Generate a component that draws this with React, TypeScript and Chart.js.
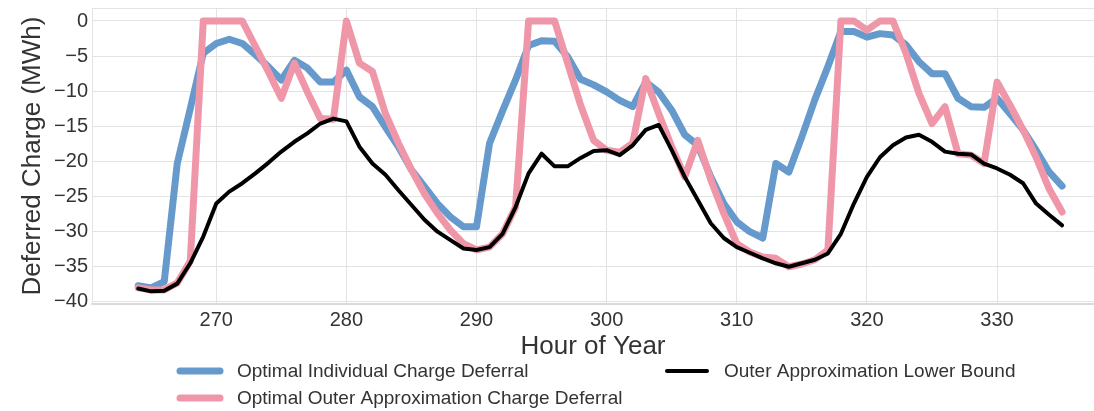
import { useEffect, useRef } from 'react';
import { Chart, registerables } from 'chart.js';

Chart.register(...registerables);

// Hour of year for each sample
const hours = [
  264, 265, 266, 267, 268, 269, 270, 271, 272, 273, 274, 275, 276, 277, 278, 279,
  280, 281, 282, 283, 284, 285, 286, 287, 288, 289, 290, 291, 292, 293, 294, 295,
  296, 297, 298, 299, 300, 301, 302, 303, 304, 305, 306, 307, 308, 309, 310, 311,
  312, 313, 314, 315, 316, 317, 318, 319, 320, 321, 322, 323, 324, 325, 326, 327,
  328, 329, 330, 331, 332, 333, 334, 335,
];

// Deferred charge (MWh)
const individualDeferral = [
  -37.7, -38.0, -37.1, -20.3, -12.5, -4.6, -3.2, -2.6, -3.2, -4.8, -6.5, -8.4, -5.6, -6.7, -8.7, -8.7,
  -7.0, -10.8, -12.2, -15.1, -17.9, -21.2, -23.6, -26.0, -27.9, -29.3, -29.3, -17.4, -12.8, -8.4, -3.5, -2.8,
  -2.9, -5.1, -8.3, -9.1, -10.1, -11.3, -12.2, -8.7, -10.1, -12.7, -16.2, -17.7, -22.2, -26.0, -28.6, -30.0,
  -30.9, -20.3, -21.5, -16.5, -11.2, -6.5, -1.5, -1.5, -2.3, -1.8, -2.0, -3.4, -5.8, -7.5, -7.5, -11.0,
  -12.2, -12.3, -11.0, -13.2, -15.5, -18.4, -21.5, -23.5,
];

const outerApproxDeferral = [
  -38.0, -38.3, -38.3, -37.3, -34.2, 0, 0, 0, 0, -3.6, -7.2, -11.0, -6.0, -10.1, -13.9, -14.0,
  0, -6.0, -7.2, -13.2, -17.4, -21.2, -24.6, -27.4, -29.8, -31.7, -32.6, -32.2, -30.3, -26.5, 0, 0,
  0, -6.0, -12.0, -17.0, -18.4, -18.7, -17.4, -8.2, -13.2, -17.9, -22.2, -17.0, -22.6, -27.4, -31.7, -32.9,
  -33.6, -33.8, -35.0, -34.6, -34.0, -32.6, 0, 0, -1.3, 0, 0, -4.6, -10.3, -14.6, -12.2, -18.9,
  -19.1, -20.3, -8.7, -12.0, -15.5, -19.4, -23.9, -27.2,
];

const outerApproxLowerBound = [
  -38.1, -38.5, -38.4, -37.4, -34.5, -30.7, -26.0, -24.3, -23.1, -21.7, -20.2, -18.6, -17.2, -16.0, -14.6, -13.9,
  -14.3, -17.9, -20.3, -21.9, -24.1, -26.2, -28.3, -30.0, -31.2, -32.4, -32.6, -32.2, -30.3, -26.5, -21.7, -18.9,
  -20.7, -20.7, -19.5, -18.5, -18.4, -19.1, -17.7, -15.5, -14.8, -18.4, -22.2, -25.5, -28.8, -30.9, -32.2, -33.0,
  -33.8, -34.5, -35.0, -34.5, -34.0, -33.1, -30.3, -26.0, -22.2, -19.4, -17.7, -16.6, -16.2, -17.2, -18.6, -18.9,
  -19.0, -20.3, -21.0, -21.9, -23.1, -26.0, -27.6, -29.1,
];

const xTicks = [270, 280, 290, 300, 310, 320, 330];
const yTicks = [0, -5, -10, -15, -20, -25, -30, -35, -40];

const seriesLabels = [
  'Optimal Individual Charge Deferral',
  'Optimal Outer Approximation Charge Deferral',
  'Outer Approximation Lower Bound',
];

const FONT = '"Liberation Sans", Arial, sans-serif';
const TEXT = '#333333';
const GRID = '#e3e3e3';

const toPoints = (vals: number[]) => hours.map((h, i) => ({ x: h, y: vals[i] }));

// Two-column legend drawn beneath the axis title
const legendPlugin = {
  id: 'twoColumnLegend',
  afterDraw(chart: any) {
    const { ctx } = chart;
    const slots = [
      { ds: 0, x: 180, y: 371 },
      { ds: 2, x: 667, y: 371 },
      { ds: 1, x: 180, y: 398 },
    ];
    ctx.save();
    ctx.font = `19px ${FONT}`;
    ctx.textBaseline = 'middle';
    ctx.textAlign = 'left';
    for (const s of slots) {
      const ds = chart.data.datasets[s.ds];
      ctx.beginPath();
      ctx.lineCap = 'round';
      ctx.strokeStyle = ds.borderColor;
      ctx.lineWidth = ds.borderWidth;
      ctx.moveTo(s.x, s.y);
      ctx.lineTo(s.x + 40, s.y);
      ctx.stroke();
      ctx.fillStyle = TEXT;
      ctx.fillText(ds.label, s.x + 57, s.y + 1);
    }
    ctx.restore();
  },
};

// Light frame line along the top of the plot area
const frameTopPlugin = {
  id: 'frameTop',
  beforeDatasetsDraw(chart: any) {
    const { ctx, chartArea } = chart;
    ctx.save();
    ctx.strokeStyle = GRID;
    ctx.lineWidth = 1;
    ctx.beginPath();
    ctx.moveTo(chartArea.left, chartArea.top + 0.5);
    ctx.lineTo(chartArea.right, chartArea.top + 0.5);
    ctx.stroke();
    ctx.restore();
  },
};

export default function App() {
  const canvasRef = useRef<HTMLCanvasElement | null>(null);

  useEffect(() => {
    document.body.style.margin = '0';
    document.body.style.overflow = 'hidden';
    const canvas = canvasRef.current;
    if (!canvas) return;

    const chart = new Chart(canvas, {
      type: 'line',
      data: {
        datasets: [
          {
            label: seriesLabels[0],
            data: toPoints(individualDeferral),
            borderColor: '#6699cc',
            borderWidth: 7,
            order: 3,
          },
          {
            label: seriesLabels[1],
            data: toPoints(outerApproxDeferral),
            borderColor: '#ef97a9',
            borderWidth: 7,
            order: 2,
          },
          {
            label: seriesLabels[2],
            data: toPoints(outerApproxLowerBound),
            borderColor: '#000000',
            borderWidth: 4,
            order: 1,
          },
        ],
      },
      options: {
        animation: false,
        responsive: false,
        maintainAspectRatio: false,
        datasets: {
          line: {
            pointRadius: 0,
            tension: 0,
            borderJoinStyle: 'round',
            borderCapStyle: 'round',
          },
        },
        layout: { padding: { top: 8, right: 0, left: 0, bottom: 49 } },
        plugins: {
          legend: { display: false },
          tooltip: { enabled: false },
        },
        scales: {
          x: {
            type: 'linear',
            min: 260.45,
            max: 337.45,
            afterBuildTicks: (s: any) => {
              s.ticks = xTicks.map((v) => ({ value: v }));
            },
            afterFit: (s: any) => {
              s.height = 58;
              s.paddingLeft = 0;
              s.paddingRight = 0;
            },
            grid: { color: GRID, lineWidth: 1, drawTicks: false },
            border: { color: '#dadada', width: 2 },
            ticks: {
              font: { family: FONT, size: 20 },
              color: TEXT,
              padding: 4,
              maxRotation: 0,
              callback: (v: any) => String(v),
            },
            title: {
              display: true,
              text: 'Hour of Year',
              font: { family: FONT, size: 26 },
              color: TEXT,
              padding: 0,
            },
          },
          y: {
            min: -40.3,
            max: 1.85,
            afterBuildTicks: (s: any) => {
              s.ticks = yTicks.map((v) => ({ value: v }));
            },
            afterFit: (s: any) => {
              s.width = 92;
              s.paddingTop = 0;
              s.paddingBottom = 0;
            },
            grid: { color: GRID, lineWidth: 1, drawTicks: false },
            border: { color: GRID, width: 1 },
            ticks: {
              font: { family: FONT, size: 20 },
              color: TEXT,
              padding: 4,
              callback: (v: any) => (v < 0 ? '\u2212' + Math.abs(v) : String(v)),
            },
            title: {
              display: true,
              text: 'Deferred Charge (MWh)',
              font: { family: FONT, size: 26 },
              color: TEXT,
              padding: { top: 17, bottom: 0 },
            },
          },
        },
      },
      plugins: [frameTopPlugin, legendPlugin],
    } as any);

    return () => chart.destroy();
  }, []);

  return (
    <div style={{ width: 1094, height: 411 }}>
      <canvas ref={canvasRef} width={1094} height={411} />
    </div>
  );
}
